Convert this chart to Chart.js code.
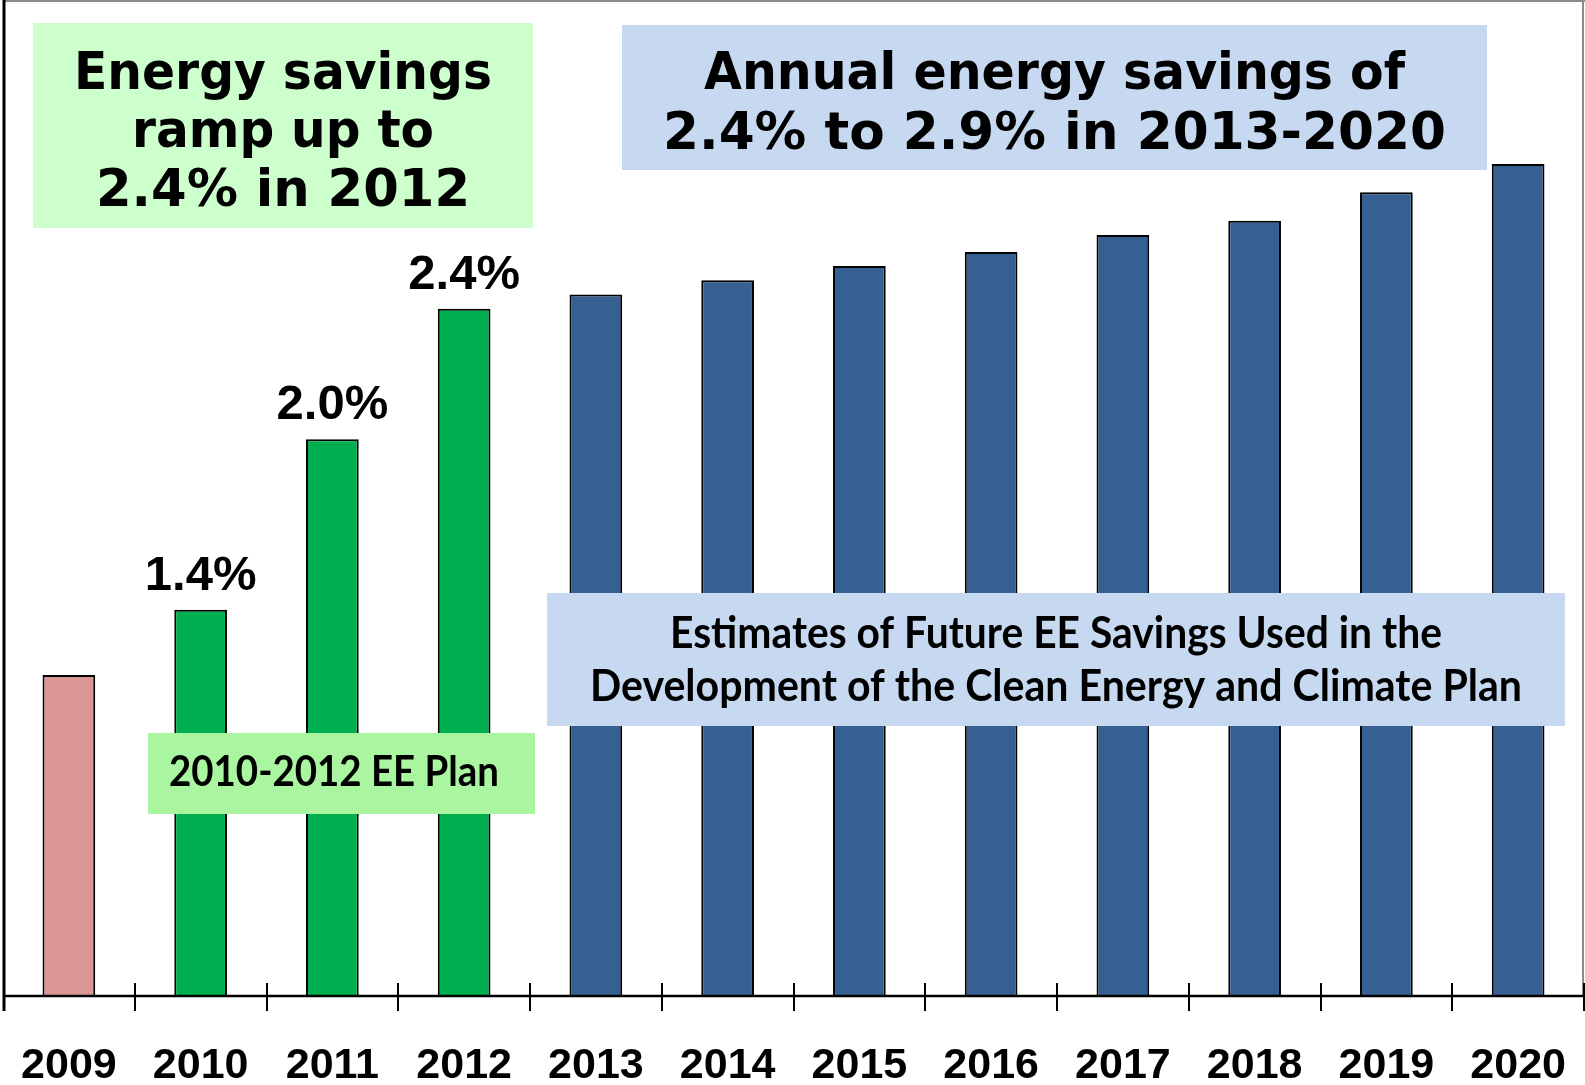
<!DOCTYPE html>
<html>
<head>
    <meta charset="UTF-8">
    <title>EE savings</title>
    <script src="https://cdn.jsdelivr.net/npm/chart.js@4.4.0/dist/chart.umd.min.js"></script>
</head>
<style>
    html, body { margin: 0; padding: 0; background: #fff; }
    canvas { display: block; }
</style>
<body>
    <canvas id="chart" width="1585" height="1085"></canvas>

    <script>
        // data (percent annual savings)
        var years = ['2009', '2010', '2011', '2012', '2013', '2014', '2015', '2016', '2017', '2018', '2019', '2020'];
        var savings = [1.13, 1.36, 1.96, 2.42, 2.47, 2.52, 2.57, 2.62, 2.68, 2.73, 2.83, 2.93];
        var groups = ['base', 'plan', 'plan', 'plan', 'est', 'est', 'est', 'est', 'est', 'est', 'est', 'est'];
        var valueLabels = ['', '1.4%', '2.0%', '2.4%', '', '', '', '', '', '', '', ''];

        var rampText = ['Energy savings', 'ramp up to', '2.4% in 2012'];
        var annualText = ['Annual energy savings of', '2.4% to 2.9% in 2013-2020'];
        var estimateText = ['Estimates of Future EE Savings Used in the', 'Development of the Clean Energy and Climate Plan'];
        var planText = ['2010-2012 EE Plan'];

        var groupColor = { base: '#D99694', plan: '#00B050', est: '#376092' };

        function box(ctx, x, y, w, h, fill, lines, font, baselines, maxW, cx) {
            ctx.fillStyle = fill;
            ctx.fillRect(x, y, w, h);
            ctx.fillStyle = '#000';
            ctx.font = font;
            ctx.textAlign = 'center';
            ctx.textBaseline = 'alphabetic';
            lines.forEach(function (t, i) {
                ctx.fillText(t, cx || (x + w / 2), baselines[i], maxW[i]);
            });
        }

        var extras = {
            id: 'extras',
            afterDatasetsDraw: function (chart) {
                var ctx = chart.ctx;
                var area = chart.chartArea;
                var xs = chart.scales.x;
                var meta = chart.getDatasetMeta(0);
                ctx.save();

                // frame and axes
                ctx.strokeStyle = '#8c8c8c';
                ctx.lineWidth = 2;
                ctx.beginPath();
                ctx.moveTo(area.left, 1); ctx.lineTo(1585, 1);
                ctx.moveTo(1583, 0); ctx.lineTo(1583, area.bottom);
                ctx.stroke();

                ctx.strokeStyle = '#000';
                ctx.lineWidth = 3;
                ctx.beginPath();
                ctx.moveTo(area.left + 1, 0); ctx.lineTo(area.left + 1, area.bottom + 15);
                ctx.stroke();
                ctx.lineWidth = 2.5;
                ctx.beginPath();
                ctx.moveTo(area.left, area.bottom); ctx.lineTo(1585, area.bottom);
                ctx.stroke();

                // tick marks crossing the axis at category boundaries
                var step = (area.right - area.left) / years.length;
                ctx.lineWidth = 2;
                ctx.beginPath();
                for (var i = 1; i <= years.length; i++) {
                    var tx = Math.round(xs.getPixelForValue(i - 1) + step / 2);
                    if (i === years.length) tx = 1584;
                    ctx.moveTo(tx, area.bottom - 13); ctx.lineTo(tx, area.bottom + 15);
                }
                ctx.stroke();

                // value labels above the plan bars
                ctx.fillStyle = '#000';
                ctx.font = 'bold 49px "Liberation Sans", Arial, sans-serif';
                ctx.textAlign = 'center';
                ctx.textBaseline = 'alphabetic';
                meta.data.forEach(function (bar, i) {
                    if (valueLabels[i]) ctx.fillText(valueLabels[i], bar.x, bar.y - 20);
                });

                // text boxes
                box(ctx, 33, 23, 500, 205, '#CCFFCC', rampText,
                    'bold 52px "DejaVu Sans", Verdana, sans-serif', [89, 147, 206], [418, 302, 374]);
                box(ctx, 622, 25, 865, 145, '#C6D9F1', annualText,
                    'bold 52px "DejaVu Sans", Verdana, sans-serif', [89, 148.5], [701, 783]);
                box(ctx, 547, 593, 1018, 133, '#C6D9F1', estimateText,
                    'bold 44px Lato, "Open Sans", sans-serif', [648, 701], [772, 932]);
                box(ctx, 148, 733, 387, 81, '#A9F5A0', planText,
                    'bold 42px Lato, "Open Sans", sans-serif', [786], [330], 334);

                ctx.restore();
            }
        };

        new Chart(document.getElementById('chart'), {
            type: 'bar',
            data: {
                labels: years,
                datasets: [{
                    data: savings,
                    backgroundColor: groups.map(function (g) { return groupColor[g]; }),
                    borderColor: '#000',
                    borderWidth: 2,
                    borderSkipped: 'bottom',
                    barPercentage: 0.4,
                    categoryPercentage: 1.0
                }]
            },
            options: {
                responsive: false,
                animation: false,
                layout: { padding: { left: 3, right: 1, top: 2, bottom: 0 } },
                plugins: { legend: { display: false }, tooltip: { enabled: false } },
                scales: {
                    x: {
                        grid: { display: false, drawTicks: false },
                        border: { display: false },
                        ticks: {
                            color: '#000',
                            padding: 44,
                            maxRotation: 0,
                            font: { family: '"Liberation Sans", Arial, sans-serif', size: 43, weight: 'bold' }
                        },
                        afterFit: function (s) {
                            s.height = 89;
                            s.paddingLeft = 0;
                            s.paddingRight = 0;
                        }
                    },
                    y: {
                        display: false,
                        min: 0,
                        max: 3.5
                    }
                }
            },
            plugins: [extras]
        });
    </script>
</body>
</html>
